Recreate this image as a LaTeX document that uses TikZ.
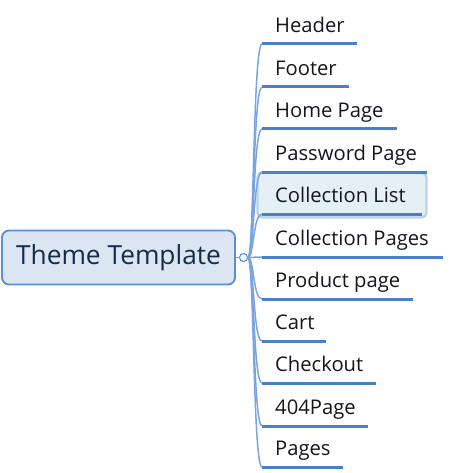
\documentclass[tikz,border=0pt]{standalone}
\usepackage{fontspec}
\setmainfont{Open Sans}
\definecolor{rootfill}{HTML}{DCE6F2}
\definecolor{rootdraw}{HTML}{5B8FD8}
\definecolor{rootText}{HTML}{142B4A}
\definecolor{underC}{HTML}{4A7FCB}
\definecolor{branchC}{HTML}{78A5E2}
\definecolor{selfill}{HTML}{E4F0F5}
\definecolor{seldraw}{HTML}{B6D3E9}
\definecolor{itemText}{HTML}{15151F}
\begin{document}
\begin{tikzpicture}[x=1pt,y=-1pt,
  rootbox/.style={draw=rootdraw,fill=rootfill,line width=1.9pt,rounded corners=7pt,
    minimum width=233pt,minimum height=54pt,inner sep=0pt,text=rootText,
    font=\fontsize{26.3}{30}\selectfont},
  circ/.style={circle,draw=rootdraw,fill=white,line width=1.1pt,minimum size=8pt,inner sep=0pt},
  selbox/.style={draw=seldraw,fill=selfill,line width=2.4pt,rounded corners=5pt,
    minimum width=169pt,minimum height=45pt,inner sep=0pt},
  item/.style={inner sep=0pt,text=itemText,font=\fontsize{20.2}{24}\selectfont},
  under/.style={draw=underC,line width=3pt},
  branch/.style={draw=branchC,line width=1.5pt}]
\useasboundingbox (0,0) rectangle (469,473);
\node[selbox] (sel) at (342,195) {};
\node[rootbox] (root) at (118.5,257.5) {Theme Template};
\node[circ] (c) at (243.5,257.5) {};
\draw[branch] (root.east) -- (c.west);
\foreach \n/\t/\y/\e in {hd/Header/44/357, ft/Footer/87/349, hp/Home Page/129/397,
  pp/Password Page/172/427, cl/Collection List/214/422, cp/Collection Pages/257/443,
  pr/Product page/299/413, ct/Cart/341/326, co/Checkout/383/376,
  np/404Page/426/368, pg/Pages/467/343}{
  \coordinate (\n s) at (262,\y);
  \coordinate (\n e) at (\e,\y);
  \node[item,anchor=base west] (\n) at (275,{\y-11.5}) {\t};
  \draw[branch] (c.east) .. controls +(6,0) and +(-9,0) .. (\n s);
  \draw[under] (\n s) -- (\n e);
}
\end{tikzpicture}
\end{document}
